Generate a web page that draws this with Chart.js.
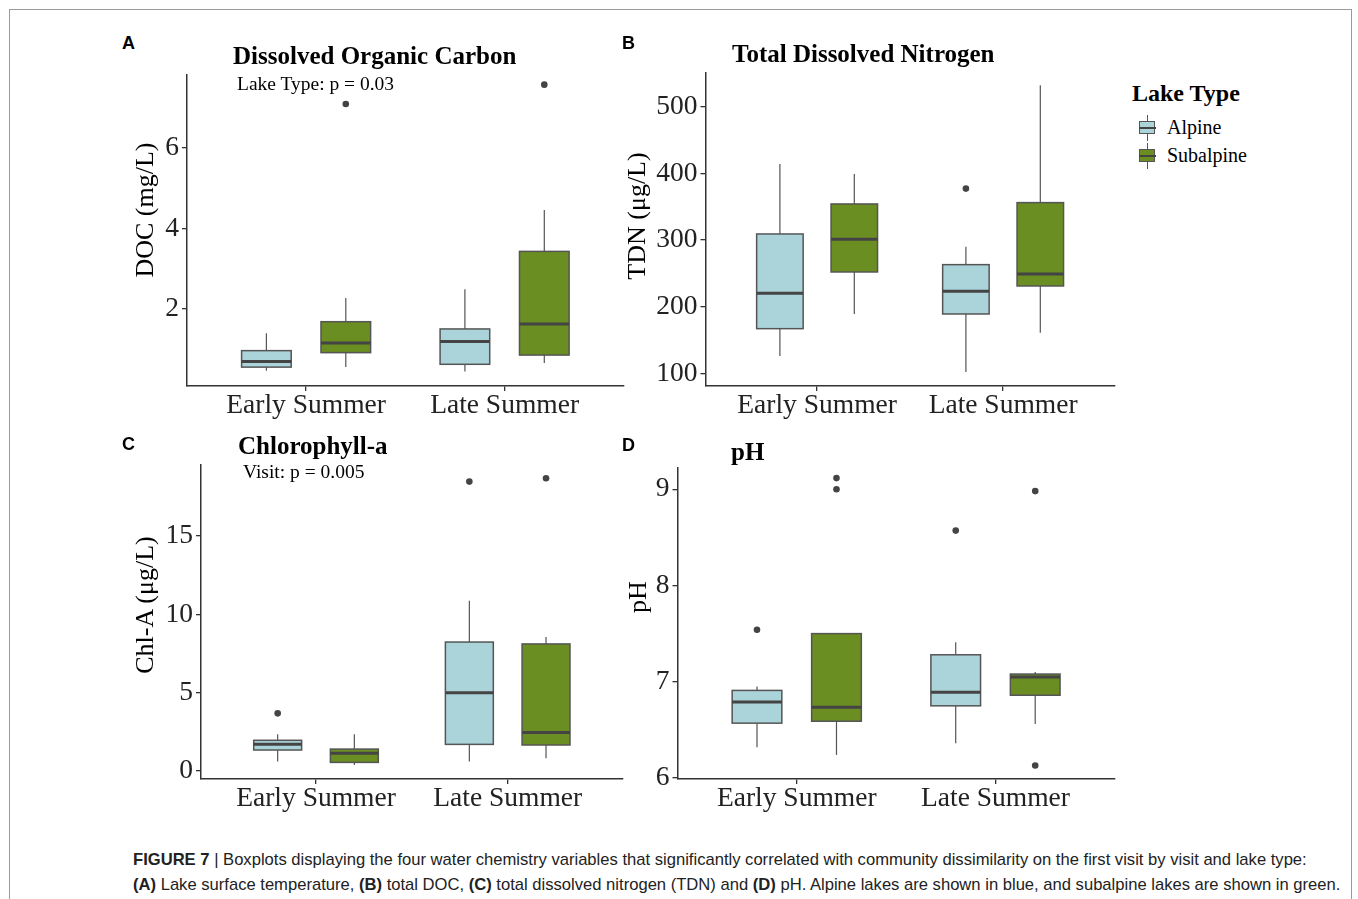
<!DOCTYPE html>
<html>
<head>
<meta charset="utf-8">
<script src="https://cdn.jsdelivr.net/npm/chart.js@4/dist/chart.umd.min.js"></script>
<style>
  body { margin: 0; width: 1358px; height: 899px; overflow: hidden; position: relative; background: #fff;
         font-family: "Liberation Serif", "Times New Roman", serif; color: #000; }
  .frame  { position: absolute; left: 9px; top: 9px; width: 1341px; height: 1000px; border: 1px solid #9a9a9a; }
  canvas  { position: absolute; }
  .letter { position: absolute; font: bold 18px/1 "Liberation Sans", Arial, sans-serif; }
  .title  { position: absolute; font-weight: bold; font-size: 25px; line-height: 1; white-space: nowrap; }
  .note   { position: absolute; font-size: 19.5px; line-height: 1; white-space: nowrap; }
  .ytitle { position: absolute; font-size: 26px; line-height: 1; white-space: nowrap;
            transform: translate(-50%, -50%) rotate(-90deg); }
  .ltitle { position: absolute; font-weight: bold; font-size: 24px; line-height: 1; white-space: nowrap; }
  .ltext  { position: absolute; font-size: 20px; line-height: 1; white-space: nowrap; }
  .key    { position: absolute; width: 17px; height: 26px; }
  .key .wh  { position: absolute; left: 8px; top: 0; width: 1.2px; height: 26px; background: #555; }
  .key .bx  { position: absolute; left: 0; top: 6px; width: 14px; height: 11px; border: 1.5px solid #555; }
  .key .md  { position: absolute; left: 0; top: 12px; width: 17px; height: 2px; background: #444; }
  .caption { position: absolute; left: 133px; top: 847px; font: 16.6px/25px "Liberation Sans", Arial, sans-serif;
             color: #222; white-space: nowrap; }
  .caption b { font-weight: bold; }
</style>
</head>
<body>
<div class="frame"></div>

<canvas id="chartDoc" width="501" height="381" style="left:126px;top:55px"></canvas>
<canvas id="chartTdn" width="500" height="383" style="left:618px;top:53px"></canvas>
<canvas id="chartChl" width="500" height="384" style="left:126px;top:445px"></canvas>
<canvas id="chartPh"  width="499" height="381" style="left:619px;top:448px"></canvas>

<div class="letter" style="left:122px;top:34px">A</div>
<div class="letter" style="left:622px;top:34px">B</div>
<div class="letter" style="left:122px;top:435px">C</div>
<div class="letter" style="left:622px;top:436px">D</div>

<div class="title" style="left:233px;top:43px">Dissolved Organic Carbon</div>
<div class="note"  style="left:237px;top:74px">Lake Type: p = 0.03</div>
<div class="title" style="left:732px;top:41px">Total Dissolved Nitrogen</div>
<div class="title" style="left:238px;top:433px">Chlorophyll-a</div>
<div class="note"  style="left:243px;top:462px">Visit: p = 0.005</div>
<div class="title" style="left:731px;top:439px">pH</div>

<div class="ytitle" style="left:145px;top:210px">DOC (mg/L)</div>
<div class="ytitle" style="left:637px;top:216px">TDN (μg/L)</div>
<div class="ytitle" style="left:145px;top:605px">Chl-A (μg/L)</div>
<div class="ytitle" style="left:638px;top:597px">pH</div>

<div class="ltitle" style="left:1132px;top:81px">Lake Type</div>
<div class="key" style="left:1139px;top:114.5px"><div class="wh"></div><div class="bx" style="background:#aad3da"></div><div class="md"></div></div>
<div class="ltext" style="left:1167px;top:117px">Alpine</div>
<div class="key" style="left:1139px;top:143px"><div class="wh"></div><div class="bx" style="background:#6b8e23"></div><div class="md"></div></div>
<div class="ltext" style="left:1167px;top:145px">Subalpine</div>

<div class="caption">
  <b>FIGURE 7</b> | Boxplots displaying the four water chemistry variables that significantly correlated with community dissimilarity on the first visit by visit and lake type:<br>
  <b>(A)</b> Lake surface temperature, <b>(B)</b> total DOC, <b>(C)</b> total dissolved nitrogen (TDN) and <b>(D)</b> pH. Alpine lakes are shown in blue, and subalpine lakes are shown in green.
</div>

<script>
const visits    = ['Early Summer', 'Late Summer'];
const lakeTypes = ['Alpine', 'Subalpine'];

// each row: [lower whisker, Q1, median, Q3, upper whisker], Early then Late summer
const docAlpine       = [[0.46, 0.55, 0.69, 0.96, 1.39], [0.44, 0.62, 1.19, 1.50, 2.49]];
const docSubalpine    = [[0.55, 0.91, 1.15, 1.68, 2.27], [0.65, 0.85, 1.62, 3.43, 4.46]];
const docOutAlpine    = [[], []];
const docOutSubalpine = [[7.10], [7.58]];
const docTicks        = [2, 4, 6];

const tdnAlpine       = [[126, 167, 220, 309, 414], [102, 189, 223, 263, 290]];
const tdnSubalpine    = [[189, 252, 301, 354, 399], [161, 231, 249, 356, 532]];
const tdnOutAlpine    = [[], [377]];
const tdnOutSubalpine = [[], []];
const tdnTicks        = [100, 200, 300, 400, 500];

const chlAlpine       = [[0.60, 1.34, 1.70, 1.96, 2.34], [0.60, 1.70, 5.00, 8.23, 10.87]];
const chlSubalpine    = [[0.38, 0.55, 1.13, 1.40, 2.34], [0.81, 1.66, 2.45, 8.11, 8.55]];
const chlOutAlpine    = [[3.68], [18.47]];
const chlOutSubalpine = [[], [18.68]];
const chlTicks        = [0, 5, 10, 15];

const phAlpine        = [[6.32, 6.57, 6.79, 6.91, 6.95], [6.36, 6.75, 6.89, 7.28, 7.41]];
const phSubalpine     = [[6.24, 6.59, 6.735, 7.50, 7.50], [6.56, 6.86, 7.05, 7.08, 7.10]];
const phOutAlpine     = [[7.54], [8.57]];
const phOutSubalpine  = [[9.00, 9.115], [6.13, 8.98]];
const phTicks         = [6, 7, 8, 9];

const FILLS    = ['#aad3da', '#6b8e23'];
const DODGE    = [-0.2, 0.2];
const BOX_W    = 0.25;
const LINE_CLR = '#555';

Chart.defaults.font.family = '"Liberation Serif", "Times New Roman", serif';
Chart.defaults.color = '#222';

// draws whiskers, boxes and medians from the stats arrays, through the chart scales
const boxPlugin = {
  id: 'boxes',
  beforeDatasetsDraw(chart, args, opts) {
    const { ctx, scales: { x, y } } = chart;
    const half = Math.abs(x.getPixelForValue(BOX_W / 2) - x.getPixelForValue(0));
    ctx.save();
    opts.series.forEach((s, g) => {
      s.forEach((st, i) => {
        const [lo, q1, med, q3, hi] = st.map(v => y.getPixelForValue(v));
        const cx = x.getPixelForValue(i + 1 + DODGE[g]);
        ctx.strokeStyle = LINE_CLR;
        ctx.lineWidth = 1.2;
        ctx.beginPath();
        ctx.moveTo(cx, hi); ctx.lineTo(cx, q3);
        ctx.moveTo(cx, q1); ctx.lineTo(cx, lo);
        ctx.stroke();
        ctx.fillStyle = FILLS[g];
        ctx.fillRect(cx - half, q3, half * 2, q1 - q3);
        ctx.lineWidth = 1.5;
        ctx.strokeRect(cx - half, q3, half * 2, q1 - q3);
        ctx.strokeStyle = '#444';
        ctx.lineWidth = 3;
        ctx.beginPath();
        ctx.moveTo(cx - half, med); ctx.lineTo(cx + half, med);
        ctx.stroke();
      });
    });
    ctx.restore();
  }
};

function outlierPoints(outs, g) {
  const pts = [];
  outs.forEach((list, i) => list.forEach(v => pts.push({ x: i + 1 + DODGE[g], y: v })));
  return pts;
}

function makePanel(id, cfg) {
  const ctx = document.getElementById(id).getContext('2d');
  return new Chart(ctx, {
    type: 'scatter',
    data: {
      datasets: lakeTypes.map((name, g) => ({
        label: name,
        data: outlierPoints(cfg.outliers[g], g),
        pointRadius: 3.3,
        pointHoverRadius: 3.3,
        backgroundColor: '#444',
        borderWidth: 0,
      })),
    },
    options: {
      responsive: false, animation: false, devicePixelRatio: 1,
      layout: { padding: { top: 20, left: 0, right: 0, bottom: 0 } },
      plugins: {
        legend: { display: false },
        tooltip: { enabled: false },
        boxes: { series: cfg.stats },
      },
      scales: {
        x: {
          type: 'linear', min: 0.4, max: 2.6,
          afterBuildTicks: s => { s.ticks = [{ value: 1 }, { value: 2 }]; },
          afterFit: s => { s.height = 50; },
          ticks: { callback: v => visits[v - 1], font: { size: 27.5 }, color: '#222', padding: -2, maxRotation: 0, autoSkip: false },
          grid: { display: true, drawOnChartArea: false, drawTicks: true, tickLength: 5, color: '#333', lineWidth: 1.3 },
          border: { display: true, color: '#333', width: 1.5 },
        },
        y: {
          type: 'linear', min: cfg.yMin, max: cfg.yMax, bounds: 'data',
          afterBuildTicks: s => { s.ticks = cfg.ticks.map(v => ({ value: v })); },
          afterFit: s => { s.width = cfg.yW; },
          ticks: { font: { size: 27.5 }, color: '#222', padding: cfg.tickPad },
          grid: { display: true, drawOnChartArea: false, drawTicks: true, tickLength: 5, color: '#333', lineWidth: 1.3 },
          border: { display: true, color: '#333', width: 1.5 },
        },
      },
    },
    plugins: [boxPlugin],
  });
}

makePanel('chartDoc', {
  stats: [docAlpine, docSubalpine], outliers: [docOutAlpine, docOutSubalpine],
  ticks: docTicks, yMin: 0.08, yMax: 7.82, yW: 61, tickPad: 3,
});
makePanel('chartTdn', {
  stats: [tdnAlpine, tdnSubalpine], outliers: [tdnOutAlpine, tdnOutSubalpine],
  ticks: tdnTicks, yMin: 81, yMax: 550.4, yW: 87.5, tickPad: 3,
});
makePanel('chartChl', {
  stats: [chlAlpine, chlSubalpine], outliers: [chlOutAlpine, chlOutSubalpine],
  ticks: chlTicks, yMin: -0.51, yMax: 19.53, yW: 75, tickPad: 3,
});
makePanel('chartPh', {
  stats: [phAlpine, phSubalpine], outliers: [phOutAlpine, phOutSubalpine],
  ticks: phTicks, yMin: 5.99, yMax: 9.22, yW: 58.5, tickPad: 3,
});
</script>
</body>
</html>
